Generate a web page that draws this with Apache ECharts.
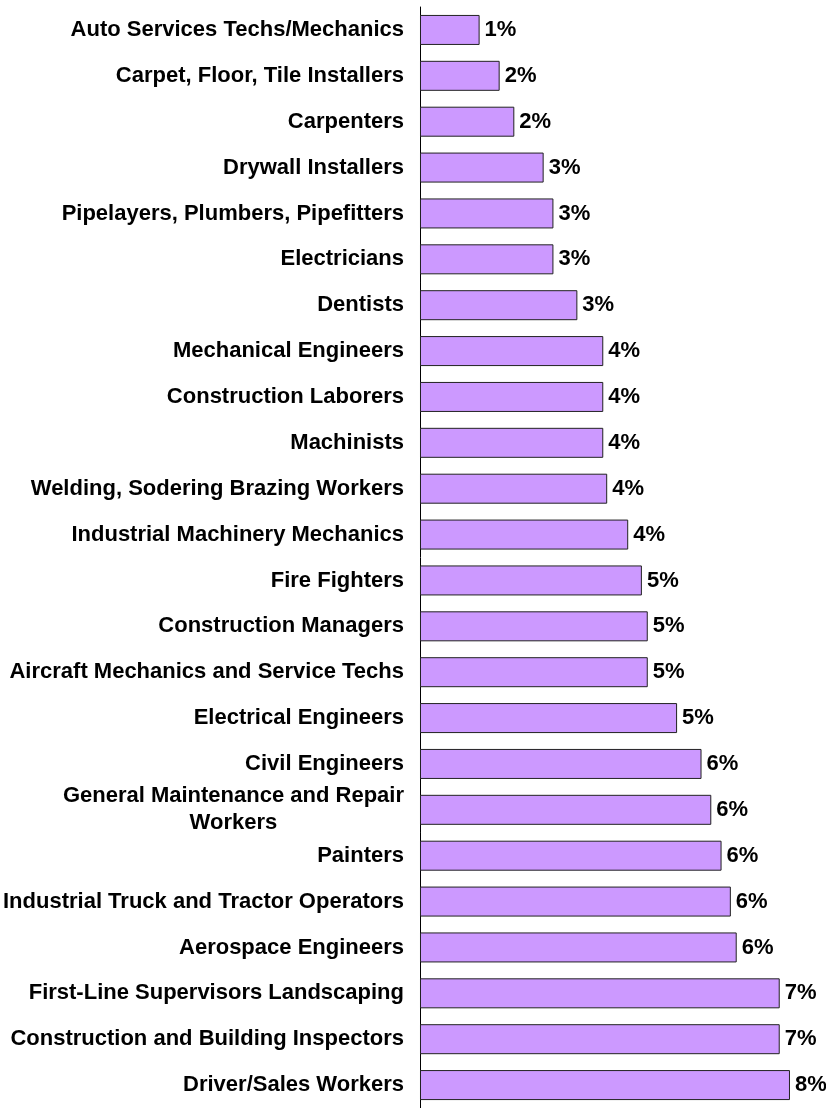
<!DOCTYPE html>
<html>
<head>
<meta charset="utf-8">
<script src="https://cdn.jsdelivr.net/npm/echarts@6/dist/echarts.min.js"></script>
<style>
  html, body { margin: 0; padding: 0; background: #fff; }
  #chart { width: 826px; height: 1108px; }
</style>
</head>
<body>
<div id="chart"></div>
<script>
// occupations, top to bottom
const categories = [
  "Auto Services Techs/Mechanics",
  "Carpet, Floor, Tile Installers",
  "Carpenters",
  "Drywall Installers",
  "Pipelayers, Plumbers, Pipefitters",
  "Electricians",
  "Dentists",
  "Mechanical Engineers",
  "Construction Laborers",
  "Machinists",
  "Welding, Sodering Brazing Workers",
  "Industrial Machinery Mechanics",
  "Fire Fighters",
  "Construction Managers",
  "Aircraft Mechanics and Service Techs",
  "Electrical Engineers",
  "Civil Engineers",
  "General Maintenance and Repair\nWorkers",
  "Painters",
  "Industrial Truck and Tractor Operators",
  "Aerospace Engineers",
  "First-Line Supervisors Landscaping",
  "Construction and Building Inspectors",
  "Driver/Sales Workers",
];
// percent (labels show rounded values)
const values = [
  1.22, 1.63, 1.93, 2.53, 2.73, 2.73, 3.22, 3.75, 3.75, 3.75, 3.83, 4.26,
  4.54, 4.66, 4.66, 5.26, 5.76, 5.96, 6.17, 6.36, 6.48, 7.36, 7.36, 7.57,
];

const font = "'Liberation Sans', Arial, sans-serif";

const option = {
  animation: false,
  grid: {
    left: 419,
    top: 7,
    width: 392,
    height: 1103,
  },
  xAxis: {
    type: "value",
    min: 0,
    max: 8,
    show: false,
    splitLine: { show: false },
  },
  yAxis: {
    type: "category",
    inverse: true,
    data: categories,
    axisLine: { lineStyle: { color: "#000", width: 1 } },
    axisTick: { length: 5, lineStyle: { color: "#000" } },
    axisLabel: {
      margin: 16,
      interval: 0,
      formatter: (v) =>
        v
          .split("\n")
          .map((s) => "{c|" + s + "}")
          .join("\n"),
      rich: {
        c: {
          align: "center",
          color: "#000",
          fontSize: 22,
          fontWeight: "bold",
          fontFamily: font,
          lineHeight: 27,
        },
      },
    },
  },
  series: [
    {
      type: "bar",
      data: values,
      barWidth: 30,
      itemStyle: {
        color: "#CC99FF",
        borderColor: "#222",
        borderWidth: 1,
      },
      label: {
        show: true,
        position: "right",
        distance: 5,
        color: "#000",
        fontSize: 22,
        fontWeight: "bold",
        fontFamily: font,
        formatter: (p) => Math.round(p.value) + "%",
      },
    },
  ],
};

const myChart = echarts.init(document.getElementById("chart"));
myChart.setOption(option);
</script>
</body>
</html>
